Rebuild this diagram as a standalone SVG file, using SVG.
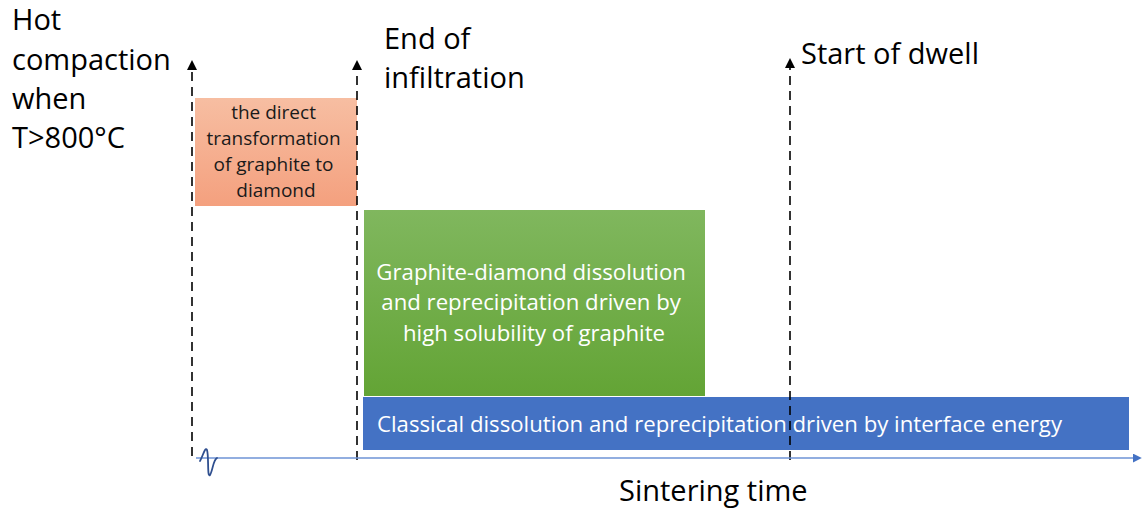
<svg xmlns="http://www.w3.org/2000/svg" width="1142" height="510" viewBox="0 0 1142 510">
  <defs>
    <linearGradient id="gOrange" x1="0" y1="0" x2="0" y2="1">
      <stop offset="0" stop-color="#F7BEA2"/>
      <stop offset="1" stop-color="#F4A07E"/>
    </linearGradient>
    <linearGradient id="gGreen" x1="0" y1="0" x2="0" y2="1">
      <stop offset="0" stop-color="#80B75E"/>
      <stop offset="1" stop-color="#63A435"/>
    </linearGradient>
    <marker id="upArrow" viewBox="0 0 10 10" refX="8" refY="5" markerWidth="11" markerHeight="10" markerUnits="userSpaceOnUse" orient="auto">
      <path d="M0,0 L10,5 L0,10 Z" fill="#000"/>
    </marker>
    <marker id="axisArrow" viewBox="0 0 10 10" refX="8" refY="5" markerWidth="9" markerHeight="9" markerUnits="userSpaceOnUse" orient="auto">
      <path d="M0,0 L10,5 L0,10 Z" fill="#4472C4"/>
    </marker>
  </defs>
  <style>
    .lbl { font-family: "Open Sans", "Liberation Sans", sans-serif; font-size: 29px; fill: #000; }
    .box { font-family: "Open Sans", "Liberation Sans", sans-serif; text-anchor: middle; }
    .dash { stroke: #000; stroke-width: 1.6; stroke-dasharray: 9 6; fill: none; }
  </style>

  <rect width="1142" height="510" fill="#fff"/>

  <!-- phase blocks -->
  <g id="node-direct">
    <rect x="195" y="98" width="162" height="108" fill="url(#gOrange)"/>
    <text class="box" font-size="19" fill="#1a1a1a">
      <tspan x="276" y="119">the direct</tspan>
      <tspan x="276" y="145">transformation</tspan>
      <tspan x="276" y="171">of graphite to</tspan>
      <tspan x="276" y="197">diamond</tspan>
    </text>
  </g>

  <g id="node-graphite">
    <rect x="364" y="210" width="341" height="186" fill="url(#gGreen)"/>
    <text class="box" font-size="22.2" fill="#fff">
      <tspan x="534" y="280">Graphite-diamond dissolution</tspan>
      <tspan x="534" y="310">and reprecipitation driven by</tspan>
      <tspan x="534" y="341">high solubility of graphite</tspan>
    </text>
  </g>

  <g id="node-classical">
    <rect x="363" y="397" width="766" height="53" fill="#4472C4"/>
    <text x="377" y="432" font-family="Open Sans, Liberation Sans, sans-serif" font-size="21" fill="#fff" textLength="685" lengthAdjust="spacingAndGlyphs">Classical dissolution and reprecipitation driven by interface energy</text>
  </g>

  <!-- time markers and axis -->
  <g id="connectors">
    <line class="dash" x1="192" y1="456" x2="192" y2="62" marker-end="url(#upArrow)"/>
    <line class="dash" x1="357" y1="460" x2="357" y2="62" marker-end="url(#upArrow)"/>
    <line class="dash" x1="790" y1="460" x2="790" y2="60" marker-end="url(#upArrow)"/>
    <line x1="196" y1="458" x2="1140" y2="458" stroke="#6E93D6" stroke-width="1.5" marker-end="url(#axisArrow)"/>
    <path d="M200,461 C203,456 205,446 207,450 C209,456 207,478 210,475 C213,470 213,460 217,458" fill="none" stroke="#2F4F8F" stroke-width="1.8" stroke-linecap="round"/>
  </g>

  <!-- annotations -->
  <g id="label-hot">
    <text class="lbl"><tspan x="12" y="30">Hot</tspan><tspan x="12" y="70">compaction</tspan><tspan x="12" y="109">when</tspan><tspan x="12" y="148">T&gt;800°C</tspan></text>
  </g>
  <g id="label-end">
    <text class="lbl"><tspan x="384" y="49">End of</tspan><tspan x="384" y="88">infiltration</tspan></text>
  </g>
  <g id="label-start">
    <text class="lbl" x="801" y="64">Start of dwell</text>
  </g>
  <g id="label-axis">
    <text class="lbl" x="619" y="501">Sintering time</text>
  </g>
</svg>
